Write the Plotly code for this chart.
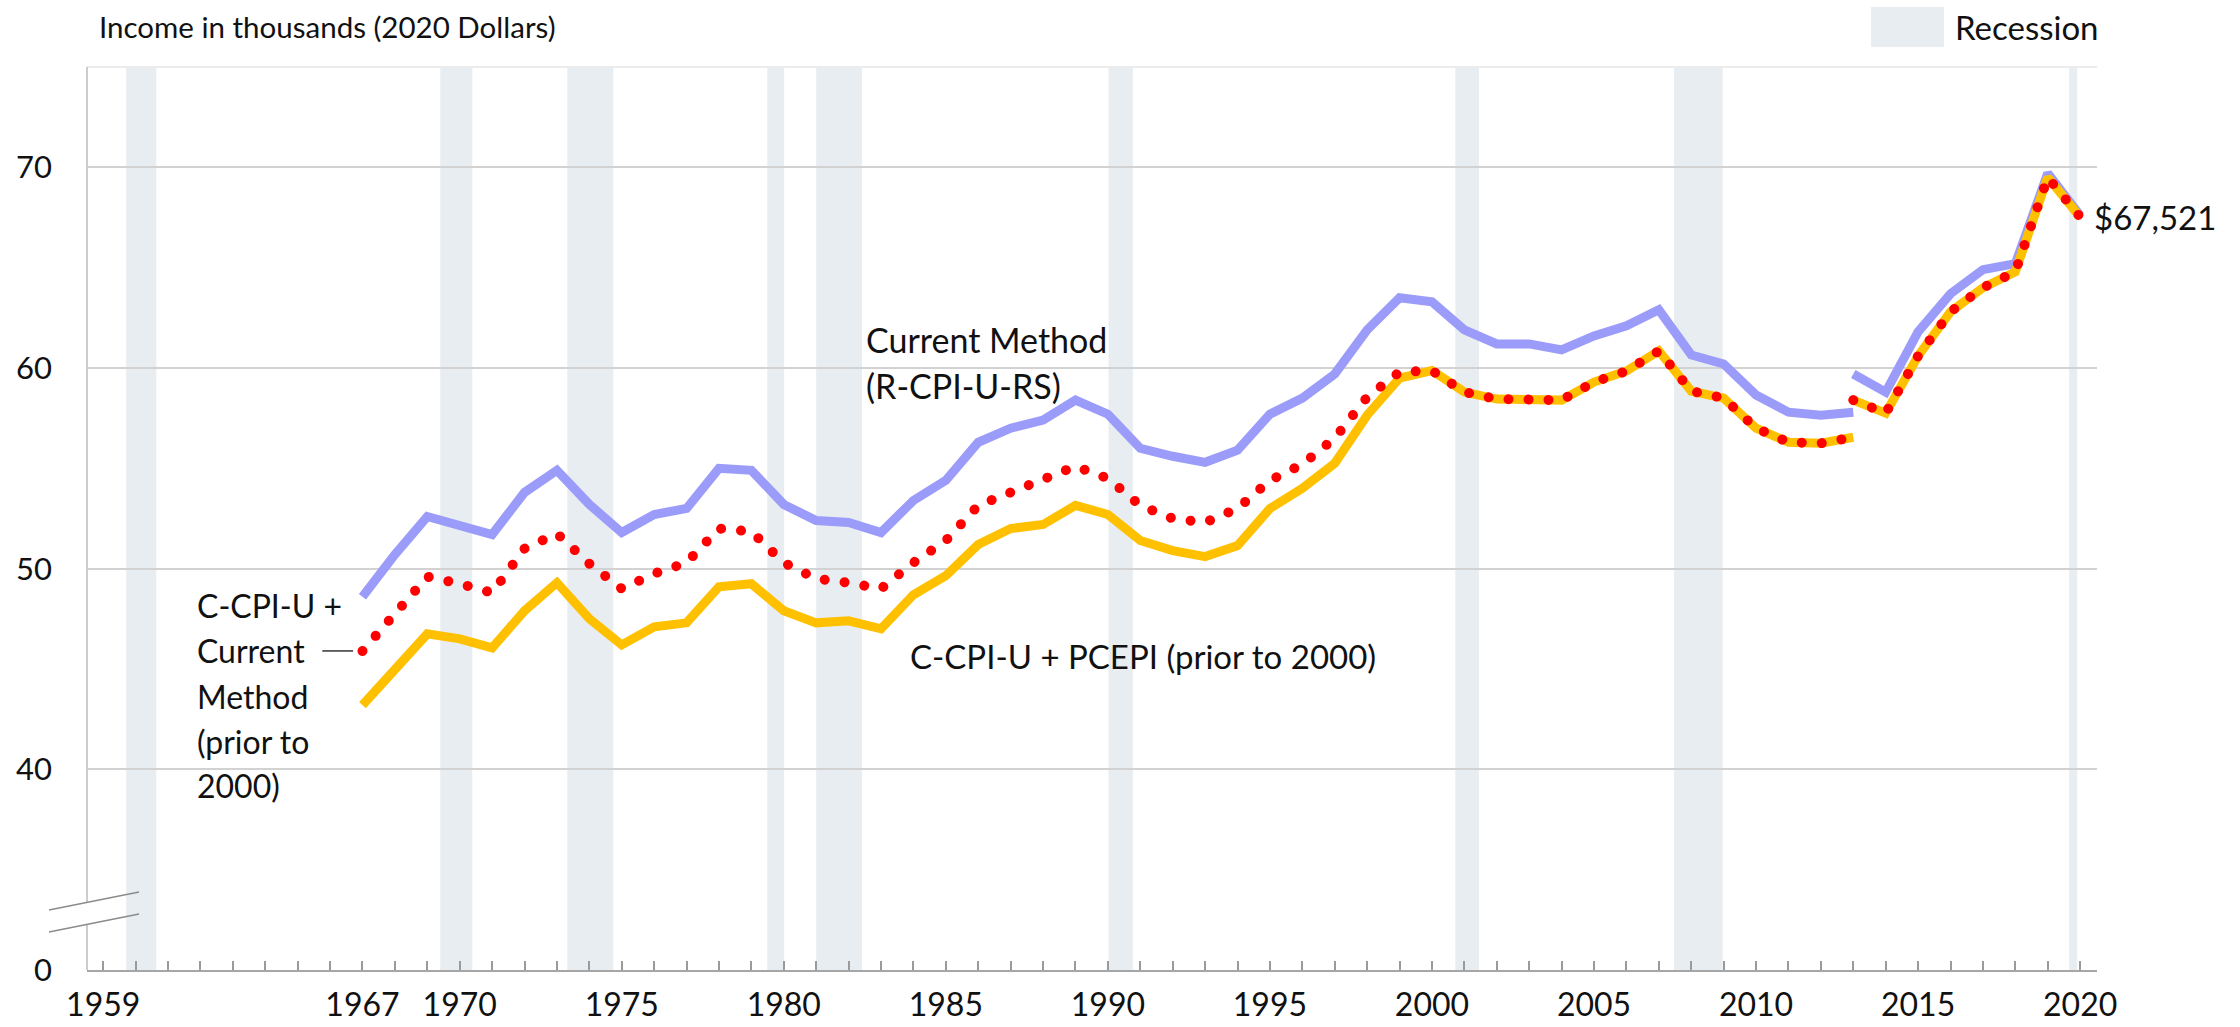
import plotly.graph_objects as go

# ---------------- data ----------------
years_old = list(range(1967, 2014))
years_new = list(range(2013, 2021))

# Current Method (R-CPI-U-RS)
current_old = [48.6, 50.7, 52.6, 52.2, 51.7, 53.8, 54.9, 53.2, 51.8, 52.7,
               53.0, 55.0, 54.9, 53.2, 52.4, 52.3, 51.8, 53.4, 54.4, 56.3,
               57.0, 57.4, 58.4, 57.7, 56.0, 55.6, 55.3, 55.9, 57.7, 58.5,
               59.7, 61.9, 63.5, 63.3, 61.9, 61.2, 61.2, 60.9, 61.6, 62.1,
               62.9, 60.65, 60.2, 58.65, 57.8, 57.65, 57.8]
current_new = [59.7, 58.8, 61.8, 63.7, 64.9, 65.2, 69.7, 67.6]

# C-CPI-U + PCEPI (prior to 2000)
pce_old = [43.2, 45.0, 46.75, 46.5, 46.05, 47.9, 49.3, 47.5, 46.2, 47.1,
           47.3, 49.1, 49.25, 47.9, 47.3, 47.4, 47.0, 48.7, 49.65, 51.2,
           52.0, 52.2, 53.15, 52.7, 51.4, 50.9, 50.6, 51.15, 53.0, 54.0,
           55.25, 57.65, 59.5, 59.87, 58.8, 58.45, 58.4, 58.4, 59.3, 59.85,
           60.85, 58.85, 58.5, 57.0, 56.3, 56.25, 56.55]
pce_new = [58.4, 57.75, 60.6, 62.8, 64.0, 64.8, 69.5, 67.521]

# C-CPI-U + Current Method (prior to 2000)
cm_old = [45.9, 47.8, 49.6, 49.25, 48.8, 51.0, 51.75, 50.25, 49.0, 49.75,
          50.3, 52.0, 51.85, 50.3, 49.5, 49.3, 49.0, 50.3, 51.4, 53.15,
          53.8, 54.4, 55.1, 54.5, 53.15, 52.5, 52.3, 53.0, 54.4, 55.2,
          56.5, 58.55, 59.8, 59.87, 58.8, 58.45, 58.4, 58.4, 59.3, 59.85,
          60.85, 58.85, 58.5, 57.0, 56.3, 56.25, 56.55]
cm_new = [58.4, 57.75, 60.6, 62.8, 64.0, 64.8, 69.5, 67.521]

# recession periods, as placed on the chart's year axis
rec_start = [1959.71, 1969.40, 1973.32, 1979.49, 1981.00, 1990.02, 2000.72, 2007.47, 2019.66]
rec_end = [1960.64, 1970.39, 1974.74, 1980.01, 1982.41, 1990.77, 2001.45, 2008.97, 2019.91]

x_label_years = [1959, 1967, 1970, 1975, 1980, 1985, 1990, 1995, 2000, 2005, 2010, 2015, 2020]
x_tick_years = list(range(1959, 2021))
y_tick_vals = [30, 40, 50, 60, 70]
y_tick_text = ["0", "40", "50", "60", "70"]

label_current = ["Current Method", "(R-CPI-U-RS)"]
label_pce = "C-CPI-U + PCEPI (prior to 2000)"
label_cm = ["C-CPI-U +", "Current", "Method", "(prior to", "2000)"]
final_label = "$67,521"

# ---------------- style ----------------
FONT = "Lato"
BLUE = "#9b9bfa"
GOLD = "#ffc000"
RED = "#ff0000"
SHADE = "#e8edf2"
TXT = "#111111"

fig = go.Figure()

for xs, ys in [(years_old, current_old), (years_new, current_new)]:
    fig.add_trace(go.Scatter(x=xs, y=ys, mode="lines",
                             line=dict(color=BLUE, width=9), hoverinfo="skip", showlegend=False))
for xs, ys in [(years_old, pce_old), (years_new, pce_new)]:
    fig.add_trace(go.Scatter(x=xs, y=ys, mode="lines",
                             line=dict(color=GOLD, width=9), hoverinfo="skip", showlegend=False))
for xs, ys in [(years_old, cm_old), (years_new, cm_new)]:
    fig.add_trace(go.Scatter(x=xs, y=ys, mode="lines",
                             line=dict(color=RED, width=10, dash="9px,11px"),
                             hoverinfo="skip", showlegend=False))

# recession shading
for s, e in zip(rec_start, rec_end):
    fig.add_shape(type="rect", xref="x", yref="paper", x0=s, x1=e, y0=0, y1=1,
                  fillcolor=SHADE, line=dict(width=0), layer="between")

# top border
fig.add_shape(type="line", xref="paper", yref="paper", x0=0, x1=1, y0=1, y1=1,
              line=dict(color="#ececec", width=2), layer="below")

# y-axis line with break
fig.add_shape(type="line", xref="paper", yref="paper", x0=0, x1=0, y0=0, y1=0.0505,
              line=dict(color="#cccccc", width=2))
fig.add_shape(type="line", xref="paper", yref="paper", x0=0, x1=0, y0=0.0749, y1=1,
              line=dict(color="#cccccc", width=2))
# break marks
fig.add_shape(type="line", xref="paper", yref="paper", x0=-0.0189, x1=0.0259, y0=0.0421, y1=0.0620,
              line=dict(color="#8c8c8c", width=1.5))
fig.add_shape(type="line", xref="paper", yref="paper", x0=-0.0189, x1=0.0259, y0=0.0664, y1=0.0864,
              line=dict(color="#8c8c8c", width=1.5))

# connector line for left label
fig.add_shape(type="line", xref="x", yref="y", x0=1965.76, x1=1966.71, y0=cm_old[0], y1=cm_old[0],
              line=dict(color="#333333", width=1.5))

# legend swatch
fig.add_shape(type="rect", xref="paper", yref="paper", x0=0.8876, x1=0.9239, y0=1.0221, y1=1.0664,
              fillcolor=SHADE, line=dict(width=0))


def f(size):
    return dict(family=FONT, size=size, color=TXT)


fig.add_annotation(xref="paper", yref="paper", x=0.9284, y=1.0443, text="Recession",
                   showarrow=False, xanchor="left", yanchor="middle", font=f(33))
fig.add_annotation(xref="paper", yref="paper", x=0.005, y=1.045, text="Income in thousands (2020 Dollars)",
                   showarrow=False, xanchor="left", yanchor="middle", font=f(29.5))
fig.add_annotation(xref="x", yref="y", x=years_new[-1], y=pce_new[-1], text=final_label,
                   showarrow=False, xanchor="left", yanchor="middle", xshift=12, font=f(33))
for txt, yv in zip(label_current, [61.4, 59.15]):
    fig.add_annotation(xref="x", yref="y", x=1982.48, y=yv, text=txt,
                       showarrow=False, xanchor="left", yanchor="middle", font=f(34))
fig.add_annotation(xref="x", yref="y", x=1983.84, y=45.65, text=label_pce,
                   showarrow=False, xanchor="left", yanchor="middle", font=f(33))
for txt, yv in zip(label_cm, [48.15, 45.9, 43.65, 41.4, 39.2]):
    fig.add_annotation(xref="x", yref="y", x=1961.84, y=yv, text=txt,
                       showarrow=False, xanchor="left", yanchor="middle", font=f(32))

fig.update_layout(
    width=2240, height=1027,
    margin=dict(l=87, r=143, t=67, b=57),
    plot_bgcolor="white", paper_bgcolor="white",
    font=dict(family=FONT, size=31, color=TXT),
    showlegend=False,
    xaxis=dict(range=[1958.5, 2020.52], tickmode="array", tickvals=x_tick_years,
               ticktext=[str(y) if y in x_label_years else "" for y in x_tick_years],
               ticks="inside", ticklen=9, tickwidth=1.5, tickcolor="#9a9a9a",
               showline=True, linecolor="#a6a6a6", linewidth=2,
               showgrid=False, zeroline=False, ticklabelstandoff=6, automargin=False,
               tickfont=dict(family=FONT, size=32, color=TXT)),
    yaxis=dict(range=[30, 75], tickmode="array", tickvals=y_tick_vals, ticktext=y_tick_text,
               showgrid=True, gridcolor="#d2d2d2", gridwidth=2, zeroline=False,
               showline=False, ticks="", ticklabelstandoff=34, automargin=False,
               tickfont=dict(family=FONT, size=31, color=TXT)),
)

post = """
document.body.style.margin='0';
var gd = document.getElementById('{plot_id}');
function roundDots(){
  var paths = gd.querySelectorAll('path.js-line');
  paths.forEach(function(p){
    var s = (p.style.stroke || '').replace(/\\s/g,'');
    if (s === 'rgb(255,0,0)') {
      p.style.strokeLinecap = 'round';
      p.style.strokeDasharray = '0.01px,20px';
    }
  });
}
roundDots();
if (gd.on) { gd.on('plotly_afterplot', roundDots); }
"""

fig.write_html("out.html", post_script=post, config={"displayModeBar": False})
